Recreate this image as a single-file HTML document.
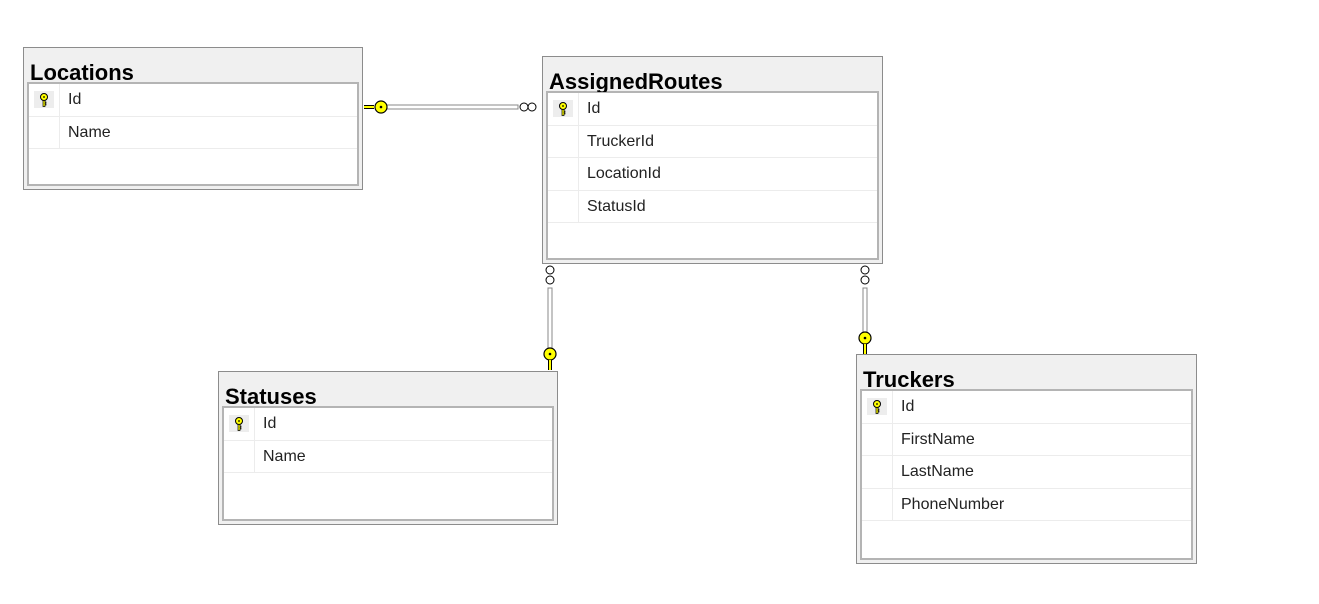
<!DOCTYPE html>
<html><head><style>
body{margin:0;width:1319px;height:604px;background:#fff;position:relative;overflow:hidden;font-family:"Liberation Sans",sans-serif}
.o{position:absolute;border:1px solid #8c8c8c;background:#f0f0f0;box-sizing:border-box}
.t{position:absolute;left:6px;font-weight:bold;font-size:22px;line-height:24px;color:#000;white-space:nowrap;overflow:hidden;height:22px;z-index:1}
.i{position:absolute;left:3px;right:3px;bottom:3px;background:#fff;border:2px solid #b4b4b4;box-sizing:border-box}
.r{height:32.5px;border-bottom:1px solid #ececec;box-sizing:border-box;position:relative;font-size:16px;color:#222}
.r span{position:absolute;left:39px;top:7px}
.r:before{content:"";position:absolute;left:30px;top:0;bottom:0;border-left:1px solid #ececec}
.k{position:absolute;left:5px;top:7px;width:20px;height:17px;background:#ededed}
.k svg{position:absolute;left:5px;top:2px}
</style></head><body>
<svg width="0" height="0" style="position:absolute"><defs>
<symbol id="key" viewBox="0 0 10 14"><circle cx="5" cy="4" r="3.5" fill="#ff0" stroke="#000" stroke-width="1"/><circle cx="5" cy="4" r="0.9" fill="#000"/><path d="M4 7.5v6h2v-1.5h1v-1h-1v-1h1v-1h-1v-1.5z" fill="#ff0" stroke="#000" stroke-width=".7"/></symbol>
</defs></svg>

<div class="o" style="left:23px;top:47px;width:340px;height:143px">
<div class="t" style="top:13px">Locations</div>
<div class="i" style="top:34px">
<div class="r"><div class="k"><svg width="10" height="14"><use href="#key"/></svg></div><span>Id</span></div>
<div class="r"><span>Name</span></div>
</div></div>

<div class="o" style="left:542px;top:56px;width:341px;height:208px">
<div class="t" style="top:13px">AssignedRoutes</div>
<div class="i" style="top:34px">
<div class="r"><div class="k"><svg width="10" height="14"><use href="#key"/></svg></div><span>Id</span></div>
<div class="r"><span>TruckerId</span></div>
<div class="r"><span>LocationId</span></div>
<div class="r"><span>StatusId</span></div>
</div></div>

<div class="o" style="left:218px;top:371px;width:340px;height:154px">
<div class="t" style="top:13px">Statuses</div>
<div class="i" style="top:34px">
<div class="r"><div class="k"><svg width="10" height="14"><use href="#key"/></svg></div><span>Id</span></div>
<div class="r"><span>Name</span></div>
</div></div>

<div class="o" style="left:856px;top:354px;width:341px;height:210px">
<div class="t" style="top:13px">Truckers</div>
<div class="i" style="top:34px">
<div class="r"><div class="k"><svg width="10" height="14"><use href="#key"/></svg></div><span>Id</span></div>
<div class="r"><span>FirstName</span></div>
<div class="r"><span>LastName</span></div>
<div class="r"><span>PhoneNumber</span></div>
</div></div>

<svg width="1319" height="604" style="position:absolute;left:0;top:0;pointer-events:none">
<rect x="387" y="105" width="131" height="4" fill="#fff" stroke="#888" stroke-width="1"/>
<path d="M364 107h10" stroke="#000" stroke-width="4"/><path d="M364 107h10" stroke="#ff0" stroke-width="2"/>
<circle cx="381" cy="107" r="6" fill="#ff0" stroke="#000" stroke-width="1.2"/><circle cx="381" cy="107" r="1.3" fill="#000"/>
<circle cx="524" cy="107" r="4" fill="#fff" stroke="#000" stroke-width="1"/><circle cx="532" cy="107" r="4" fill="#fff" stroke="#000" stroke-width="1"/>
<circle cx="550" cy="270" r="4" fill="#fff" stroke="#000"/><circle cx="550" cy="280" r="4" fill="#fff" stroke="#000"/>
<rect x="548" y="288" width="4" height="62" fill="#fff" stroke="#888"/>
<circle cx="550" cy="354" r="6" fill="#ff0" stroke="#000" stroke-width="1.2"/><circle cx="550" cy="354" r="1.3" fill="#000"/>
<path d="M550 360v10" stroke="#000" stroke-width="4"/><path d="M550 360v10" stroke="#ff0" stroke-width="2"/>
<circle cx="865" cy="270" r="4" fill="#fff" stroke="#000"/><circle cx="865" cy="280" r="4" fill="#fff" stroke="#000"/>
<rect x="863" y="288" width="4" height="44" fill="#fff" stroke="#888"/>
<circle cx="865" cy="338" r="6" fill="#ff0" stroke="#000" stroke-width="1.2"/><circle cx="865" cy="338" r="1.3" fill="#000"/>
<path d="M865 344v10" stroke="#000" stroke-width="4"/><path d="M865 344v10" stroke="#ff0" stroke-width="2"/>
</svg>
</body></html>
